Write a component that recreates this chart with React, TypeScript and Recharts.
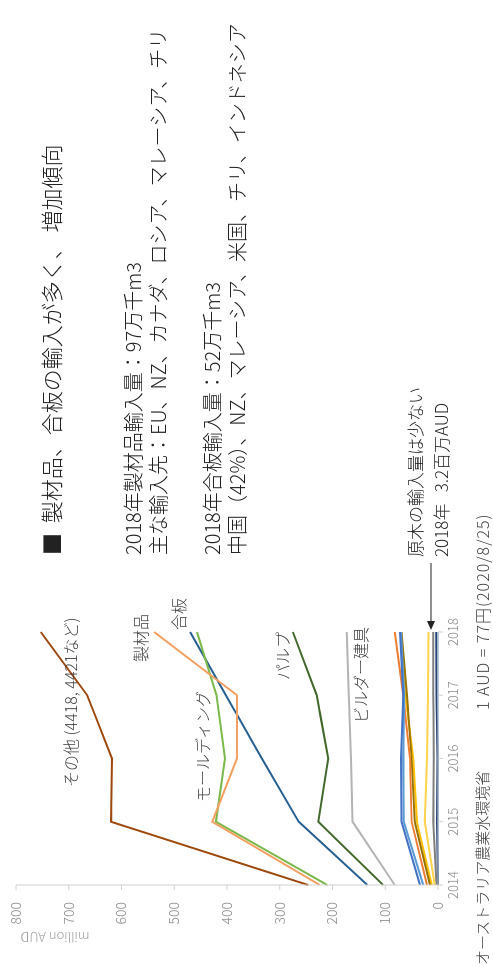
import { LineChart, Line, XAxis, YAxis } from 'recharts'

// 年次
const years = ['2014', '2015', '2016', '2017', '2018']
const valueTicks = [0, 100, 200, 300, 400, 500, 600, 700, 800]

// million AUD
const sonota = [246, 620, 618, 665, 753]
const seizaihin = [224, 428, 381, 381, 538]
const molding = [210, 421, 404, 420, 457]
const gouban = [134, 264, 334, 402, 470]
const pulp = [104, 227, 208, 230, 275]
const builder = [82, 162, 165, 169, 173]
const blueA = [34, 69, 70, 66, 72]
const blueB = [28, 65, 66, 64, 70]
const orange = [21, 50, 53, 66, 82]
const darkGold = [15, 44, 50, 59, 69]
const gold = [12, 40, 47, 62, 70]
const lightGold = [6, 25, 21, 19, 18]
const grey = [3, 9, 8, 9, 9]
const genboku = [0, 2, 1, 3, 3.2]
const paleBlue = [0, 0, 0, 0, 0]

const series = [
  { key: 'paleBlue', values: paleBlue, color: '#9DC3E6' },
  { key: 'genboku', values: genboku, color: '#264478' },
  { key: 'grey', values: grey, color: '#7F7F7F' },
  { key: 'lightGold', values: lightGold, color: '#FFD34D' },
  { key: 'gold', values: gold, color: '#FFC000' },
  { key: 'darkGold', values: darkGold, color: '#997300' },
  { key: 'orange', values: orange, color: '#ED7D31' },
  { key: 'blueB', values: blueB, color: '#5B9BD5' },
  { key: 'blueA', values: blueA, color: '#4472C4' },
  { key: 'builder', values: builder, color: '#B4B4B4' },
  { key: 'pulp', values: pulp, color: '#43682B' },
  { key: 'gouban', values: gouban, color: '#255E91' },
  { key: 'molding', values: molding, color: '#7CB94C' },
  { key: 'seizaihin', values: seizaihin, color: '#F4A062' },
  { key: 'sonota', values: sonota, color: '#9E480E' },
]

const data = years.map((y, i) => {
  const row: Record<string, any> = { year: y }
  series.forEach(s => { row[s.key] = s.values[i] })
  return row
})

const labelStyle = (x: number, y: number, size = 15): React.CSSProperties => ({
  position: 'absolute', left: x, top: y, fontSize: size, color: '#404040',
  whiteSpace: 'nowrap', lineHeight: 1,
})

export default function App() {
  return (
    <div style={{
      position: 'fixed', left: 0, top: 0, width: 966, height: 493,
      transformOrigin: '0 0', transform: 'rotate(-90deg) translate(-966px, 0)',
      background: '#fff', fontFamily: '"Noto Sans CJK JP", "Noto Sans", sans-serif',
      fontWeight: 300, overflow: 'hidden',
    }}>
      <div style={{ position: 'absolute', left: 0, top: 0 }}>
        <LineChart width={360} height={493} data={data}
          margin={{ top: 16, right: 26, bottom: 25, left: 0 }}>
          <XAxis dataKey="year" height={30} stroke="#D0D0D0" tickSize={5} tickMargin={6}
            tick={{ fill: '#8C8C8C', fontSize: 13 }} />
          <YAxis width={81} domain={[0, 800]} ticks={valueTicks} stroke="#D0D0D0"
            tickSize={5} tickMargin={12} interval={0}
            tick={{ fill: '#8C8C8C', fontSize: 14 }} />
          {series.map(s => (
            <Line key={s.key} dataKey={s.key} stroke={s.color} strokeWidth={2}
              dot={false} isAnimationActive={false} type="linear" />
          ))}
        </LineChart>
      </div>

      <div style={{
        position: 'absolute', left: 28, top: 55, fontSize: 13, color: '#A0A0A0',
        transform: 'translate(-50%, -50%) rotate(-90deg)', whiteSpace: 'nowrap',
      }}>million AUD</div>

      <div style={labelStyle(179, 62, 16)}>その他 (4418, 4421など)</div>
      <div style={labelStyle(304, 132, 16)}>製材品</div>
      <div style={labelStyle(336, 170, 16)}>合板</div>
      <div style={labelStyle(164, 194, 16)}>モールディング</div>
      <div style={labelStyle(286, 274, 16)}>パルプ</div>
      <div style={labelStyle(243, 352, 16)}>ビルダー建具</div>

      <div style={{ position: 'absolute', left: 1, top: 474, fontSize: 15, lineHeight: '16px', color: '#404040', whiteSpace: 'nowrap' }}>
        オーストラリア農業水環境省
      </div>
      <div style={{ position: 'absolute', left: 256, top: 474, fontSize: 16, lineHeight: '16px', letterSpacing: 1, color: '#404040', whiteSpace: 'nowrap' }}>
        1 AUD = 77円(2020/8/25)
      </div>

      <div style={{ position: 'absolute', left: 411, top: 36, fontSize: 22, color: '#222', whiteSpace: 'nowrap', lineHeight: '28px' }}>
        ■&nbsp;&nbsp;製材品、合板の輸入が多く、&nbsp;増加傾向
      </div>
      <div style={{ position: 'absolute', left: 411, top: 120, fontSize: 20, color: '#222', whiteSpace: 'nowrap', lineHeight: '25px' }}>
        2018年製材品輸入量：97万千m3<br />
        主な輸入先：EU、NZ、カナダ、ロシア、マレーシア、チリ
      </div>
      <div style={{ position: 'absolute', left: 411, top: 199, fontSize: 20, color: '#222', whiteSpace: 'nowrap', lineHeight: '25px' }}>
        2018年合板輸入量：52万千m3<br />
        中国（42%）、NZ、マレーシア、米国、チリ、インドネシア
      </div>

      <div style={{ position: 'absolute', left: 409, top: 402, fontSize: 17, color: '#222', whiteSpace: 'nowrap', lineHeight: '26px' }}>
        原木の輸入量は少ない<br />
        2018年&nbsp;&nbsp;&nbsp;3.2百万AUD
      </div>
      <svg style={{ position: 'absolute', left: 330, top: 424 }} width={80} height={14}>
        <line x1={14} y1={7} x2={73} y2={7} stroke="#222" strokeWidth={1.2} />
        <path d="M6,7 L15,3 L15,11 Z" fill="#222" />
      </svg>
    </div>
  )
}
